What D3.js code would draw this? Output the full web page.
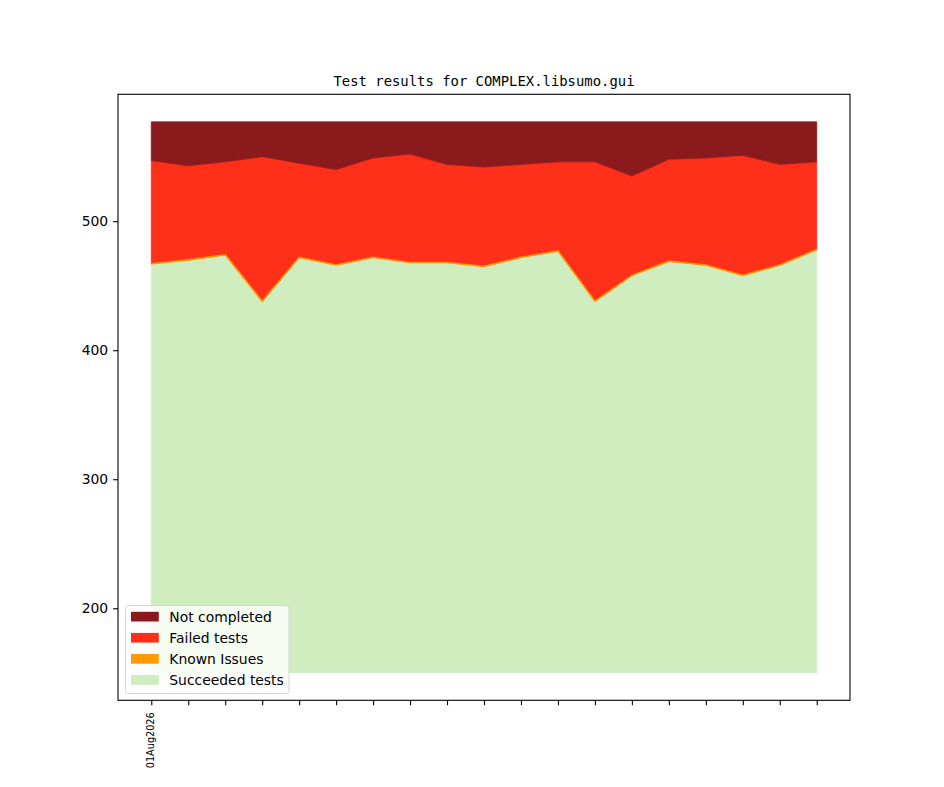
<!DOCTYPE html>
<html>
<head>
<meta charset="utf-8">
<script src="https://cdn.jsdelivr.net/npm/d3@7"></script>
<style>
  body { margin: 0; background: #fff; }
  svg { display: block; }
</style>
</head>
<body>
<div id="chart"></div>
<script>
// data
var dates = ["01Aug2026", "", "", "", "", "", "", "", "", "", "", "", "", "", "", "", "", "", ""];
var fillFloor = 150; // the green area is only filled down to here
var succeeded = [467, 470, 474, 438, 472, 466, 472, 468, 468, 465, 472, 477, 438, 458, 469, 466, 458, 466, 478];
var knownIssues = [0, 0, 0, 0, 0, 0, 0, 0, 0, 0, 0, 0, 0, 0, 0, 0, 0, 0, 0];
var failed = [80, 73, 72, 112, 73, 74, 77, 84, 76, 77, 72, 69, 108, 77, 79, 83, 93, 78, 68];
var notCompleted = [30, 34, 31, 27, 32, 37, 28, 25, 33, 35, 33, 31, 31, 42, 29, 28, 26, 33, 31];
var yTicks = [200, 300, 400, 500];

var keys = ["succeeded", "known", "failed", "notCompleted"];
var labels = {succeeded: "Succeeded tests", known: "Known Issues", failed: "Failed tests", notCompleted: "Not completed"};
var colors = {succeeded: "#cfedbe", known: "#ff9a00", failed: "#ff3019", notCompleted: "#8b1a1c"};

var rows = dates.map(function(d, i) {
    return {i: i, succeeded: succeeded[i], known: knownIssues[i], failed: failed[i], notCompleted: notCompleted[i]};
});

var width = 944, height = 787;
var axLeft = 118, axRight = 850, axTop = 94.3, axBottom = 700.3;

var svg = d3.select("#chart")
            .append("svg")
            .attr("width", width)
            .attr("height", height);

var layers = d3.stack().keys(keys)(rows);
// lift the bottom of the first layer to the fill floor
layers[0].forEach(function(p) { p[0] = fillFloor; });

var yMin = fillFloor, yMax = d3.max(layers[layers.length - 1], function(p) { return p[1]; });
var yPad = (yMax - yMin) * 0.05;
var n = dates.length;

var x = d3.scaleLinear()
          .domain([-0.05 * (n - 1), (n - 1) * 1.05])
          .range([axLeft, axRight]);
var y = d3.scaleLinear()
          .domain([yMin - yPad, yMax + yPad])
          .range([axBottom, axTop]);

var area = d3.area()
             .x(function(d) { return x(d.data.i); })
             .y0(function(d) { return y(d[0]); })
             .y1(function(d) { return y(d[1]); });

// draw the layers, known issues last so its thin edge shows
var drawOrder = ["succeeded", "failed", "notCompleted", "known"];
drawOrder.forEach(function(k) {
    var layer = layers.filter(function(l) { return l.key == k; })[0];
    svg.append("path")
       .datum(layer)
       .attr("d", area)
       .style("fill", colors[k])
       .style("stroke", colors[k])
       .style("stroke-width", k == "known" ? 1.6 : 0.8)
       .style("stroke-linejoin", "miter");
});

// axes
var yAxis = d3.axisLeft(y).tickValues(yTicks).tickSizeOuter(0).tickSize(4.9).tickPadding(4.9);
var gy = svg.append("g").attr("transform", "translate(" + axLeft + ",0)").call(yAxis);
gy.select(".domain").remove();
gy.selectAll("line").attr("stroke", "#000").attr("stroke-width", 1.1);
gy.selectAll("text").style("font-family", "DejaVu Sans").style("font-size", "13.9px").attr("fill", "#000");

var xAxis = d3.axisBottom(x).tickValues(d3.range(n)).tickFormat(function(i) { return dates[i]; })
              .tickSizeOuter(0).tickSize(4.9);
var gx = svg.append("g").attr("transform", "translate(0," + axBottom + ")").call(xAxis);
gx.select(".domain").remove();
gx.selectAll("line").attr("stroke", "#000").attr("stroke-width", 1.1);
gx.selectAll("text")
  .style("font-family", "DejaVu Sans")
  .style("font-size", "9.7px")
  .attr("fill", "#000")
  .attr("text-anchor", "end")
  .attr("dy", "0.35em")
  .attr("transform", "translate(-1,12) rotate(-90)")
  .attr("x", 0)
  .attr("y", 0);

// frame
svg.append("rect")
   .attr("x", axLeft).attr("y", axTop)
   .attr("width", axRight - axLeft).attr("height", axBottom - axTop)
   .style("fill", "none").style("stroke", "#000").style("stroke-width", 1.1);

// title
svg.append("text")
   .attr("x", (axLeft + axRight) / 2)
   .attr("y", 86)
   .attr("text-anchor", "middle")
   .style("font-family", "DejaVu Sans Mono")
   .style("font-size", "13.9px")
   .text("Test results for COMPLEX.libsumo.gui");

// legend
var legendKeys = ["notCompleted", "failed", "known", "succeeded"];
var lg = svg.append("g").attr("transform", "translate(125.5,605.5)");
lg.append("rect")
  .attr("width", 163.5).attr("height", 88)
  .attr("rx", 3).attr("ry", 3)
  .style("fill", "#fff").style("fill-opacity", 0.8)
  .style("stroke", "#d5d5d5").style("stroke-width", 1);
legendKeys.forEach(function(k, i) {
    var cy = 11.2 + i * 21.1;
    lg.append("rect")
      .attr("x", 5.5).attr("y", cy - 4.9)
      .attr("width", 27.8).attr("height", 9.7)
      .style("fill", colors[k]);
    lg.append("text")
      .attr("x", 43.8).attr("y", cy)
      .attr("dy", "0.35em")
      .style("font-family", "DejaVu Sans")
      .style("font-size", "13.9px")
      .style("fill", "#000")
      .text(labels[k]);
});
</script>
</body>
</html>
